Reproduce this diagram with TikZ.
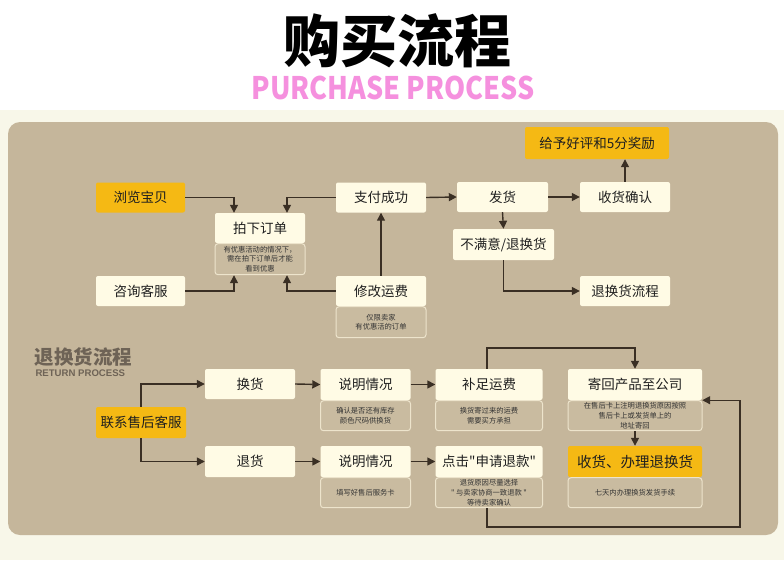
\documentclass[tikz,border=0pt]{standalone}
\usepackage{fontspec}
\setmainfont{Noto Sans CJK SC}[Ligatures=TeXOff]
\newfontfamily\latinb{Liberation Sans}
\usetikzlibrary{arrows.meta,calc}
\definecolor{panelc}{HTML}{C5B69B}
\definecolor{bandc}{HTML}{F8F7E9}
\definecolor{creamc}{HTML}{FFFBE5}
\definecolor{yellowc}{HTML}{F5B914}
\definecolor{subfill}{HTML}{C9BBA0}
\definecolor{subline}{HTML}{EDE4CC}
\definecolor{linec}{HTML}{3A2F24}
\definecolor{pinkc}{HTML}{F590DE}
\definecolor{headc}{HTML}{6E6356}
\tikzset{
  box/.style={fill=creamc, rounded corners=2pt, inner sep=0pt, minimum width=89pt, minimum height=30pt,
    font=\fontsize{13.5}{15}\selectfont, text=black!88},
  ybox/.style={box, fill=yellowc},
  subbox/.style={fill=subfill, draw=subline, line width=1pt, rounded corners=3pt, inner sep=0pt,
    minimum width=89pt, minimum height=30pt, align=center, anchor=north,
    font=\fontsize{7.3}{9.8}\selectfont, text=black!80},
  conn/.style={draw=linec, line width=1.4pt, -{Triangle[length=8pt,width=8pt]}},
  plain/.style={draw=linec, line width=1.4pt}
}
\begin{document}
\begin{tikzpicture}[x=1pt,y=-1pt]
\useasboundingbox (0,0) rectangle (784,560);
\fill[white] (0,0) rectangle (784,110);
\fill[bandc] (0,110) rectangle (784,560);
\fill[panelc, rounded corners=12pt] (8,122) rectangle (778,535);

% titles
\node[font=\fontsize{57}{59}\selectfont\bfseries] (title) at (397,41) {购买流程};
\node[font=\fontsize{31}{33}\selectfont\bfseries, text=pinkc, xscale=0.87, transform shape] (sub) at (393,88) {PURCHASE PROCESS};

% purchase flow
\node[ybox] (liulan) at (140.5,197.5) {浏览宝贝};
\node[box, minimum width=90pt] (paixia) at (260,228) {拍下订单};
\node[subbox, minimum width=90pt, minimum height=31pt] (paixiasub) at (paixia.south) {有优惠活动的情况下，\\需在拍下订单后才能\\看到优惠};
\node[box] (zixun) at (140.5,291) {咨询客服};
\node[box, minimum width=90pt] (zhifu) at (381,197.5) {支付成功};
\node[box, minimum width=90pt] (xiugai) at (381,291) {修改运费};
\node[subbox, minimum width=90pt, minimum height=31pt] (xiugaisub) at (xiugai.south) {仅限卖家\\有优惠活的订单};
\node[box, minimum width=91pt] (fahuo) at (502.5,197) {发货};
\node[box, minimum width=101pt, minimum height=31pt] (bumanyi) at (503.5,244.5) {不满意/退换货};
\node[box, minimum width=90pt] (shouhuo) at (625,197) {收货确认};
\node[ybox, minimum width=144pt, minimum height=32pt] (haoping) at (597,143) {给予好评和5分奖励};
\node[box, minimum width=90pt] (tuihuanlc) at (625,291) {退换货流程};

\draw[conn] (liulan.east) -| ([xshift=-26pt]paixia.north);
\draw[conn] (zhifu.west) -| ([xshift=27pt]paixia.north);
\draw[conn] (zixun.east) -| ([xshift=-26pt]paixiasub.south);
\draw[conn] (xiugai.west) -| ([xshift=27pt]paixiasub.south);
\draw[conn] (xiugai.north) -- (zhifu.south);
\draw[conn] (zhifu.east) -- (fahuo.west);
\draw[conn] (fahuo.south) -- (bumanyi.north);
\draw[conn] (fahuo.east) -- (shouhuo.west);
\draw[conn] (shouhuo.north) -- (shouhuo.north |- haoping.south);
\draw[conn] (bumanyi.south) |- (tuihuanlc.west);

% return flow
\node[anchor=west, font=\fontsize{19.5}{21}\selectfont\bfseries, text=headc] (rhead) at (31,357) {退换货流程};
\node[anchor=west, font=\latinb\fontsize{9.6}{11}\selectfont\bfseries, text=headc] (rsub) at (32,373) {RETURN PROCESS};

\node[ybox, minimum width=90pt, minimum height=31pt] (lianxi) at (141,422.5) {联系售后客服};
\node[box, minimum width=90pt] (huanhuo) at (250,384) {换货};
\node[box, minimum width=90pt, minimum height=31pt] (tuihuo) at (250,461.5) {退货};
\node[box, minimum width=90pt, minimum height=31pt] (shuo1) at (365.5,384.5) {说明情况};
\node[subbox, minimum width=90pt] (shuo1sub) at (shuo1.south) {确认是否还有库存\\颜色尺码供换货};
\node[box, minimum width=107pt, minimum height=31pt] (buzu) at (489,384.5) {补足运费};
\node[subbox, minimum width=107pt] (buzusub) at (buzu.south) {换货寄过来的运费\\需要买方承担};
\node[box, minimum width=134pt, minimum height=31pt] (jihui) at (635,384.5) {寄回产品至公司};
\node[subbox, minimum width=134pt] (jihuisub) at (jihui.south) {在售后卡上注明退换货原因按照\\售后卡上或发货单上的\\地址寄回};
\node[box, minimum width=90pt, minimum height=31pt] (shuo2) at (365.5,461.5) {说明情况};
\node[subbox, minimum width=90pt] (shuo2sub) at (shuo2.south) {填写好售后服务卡};
\node[box, minimum width=107pt, minimum height=31pt] (dianji) at (489,461.5) {点击"申请退款"};
\node[subbox, minimum width=107pt] (dianjisub) at (dianji.south) {退货原因尽量选择\\" 与卖家协商一致退款 "\\等待卖家确认};
\node[ybox, minimum width=134pt, minimum height=31pt, font=\fontsize{14.5}{16}\selectfont] (banli) at (635,461.5) {收货、办理退换货};
\node[subbox, minimum width=134pt] (banlisub) at (banli.south) {七天内办理换货发货手续};

\coordinate (ctop) at (487,348);
\coordinate (cbot) at (740,527);

\draw[conn] (lianxi.north) |- (huanhuo.west);
\draw[conn] (lianxi.south) |- (tuihuo.west);
\draw[conn] (huanhuo.east) -- (shuo1.west);
\draw[conn] (shuo1.east) -- (buzu.west);
\draw[conn] ([xshift=-2pt]buzu.north) |- (ctop) -| (jihui.north);
\draw[conn] (jihuisub.south) -- (banli.north);
\draw[conn] (tuihuo.east) -- (shuo2.west);
\draw[conn] (shuo2.east) -- (dianji.west);
\draw[conn] ([xshift=-2pt]dianjisub.south) |- (cbot) |- (jihui.south east);
\end{tikzpicture}
\end{document}
